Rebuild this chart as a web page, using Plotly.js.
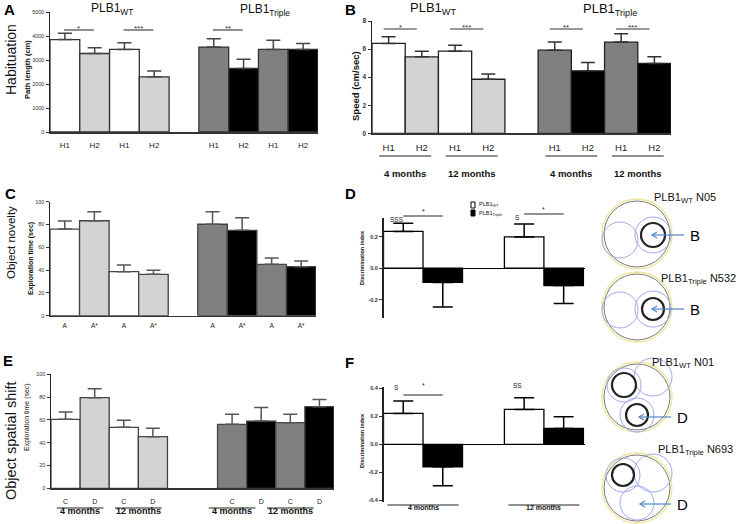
<!DOCTYPE html>
<html><head><meta charset="utf-8">
<script src="https://cdn.plot.ly/plotly-3.0.1.min.js"></script>
<style>html,body{margin:0;padding:0;background:#fff}#chart{width:738px;height:524px}</style>
</head><body><div id="chart"></div>
<script>
// ---------- data ----------
const habituationLabels = ["H1","H2","H1","H2","H1","H2","H1","H2"];
const pathLength    = [3850, 3270, 3440, 2300, 3540, 2650, 3440, 3440];
const pathLengthErr = [260, 240, 280, 240, 350, 380, 380, 250];
const speed    = [6.40, 5.45, 5.85, 3.85, 5.92, 4.45, 6.50, 4.98];
const speedErr = [0.47, 0.40, 0.43, 0.37, 0.59, 0.60, 0.59, 0.47];
const noveltyLabels = ["A","A*","A","A*","A","A*","A","A*"];
const noveltyTime    = [76, 83.3, 38.6, 36.3, 80.2, 74.9, 45.1, 43];
const noveltyTimeErr = [7, 7.9, 5.9, 3.5, 11, 11.1, 5.5, 5];
const shiftLabels = ["C","D","C","D","C","D","C","D"];
const shiftTime    = [60.5, 79.5, 53.5, 45.3, 56.1, 59, 57.6, 71.6];
const shiftTimeErr = [6.5, 7.9, 6.1, 7.3, 8.8, 11.8, 7.3, 6.4];
const ageGroups = ["4 months", "12 months"];
const genotypes = ["PLB1<sub>WT</sub>", "PLB1<sub>Triple</sub>"];
const discNoveltyWT        = [0.233, 0.198];
const discNoveltyWTErr     = [0.052, 0.082];
const discNoveltyTriple    = [-0.09, -0.11];
const discNoveltyTripleErr = [0.156, 0.113];
const discShiftWT        = [0.221, 0.25];
const discShiftWTErr     = [0.089, 0.083];
const discShiftTriple    = [-0.16, 0.114];
const discShiftTripleErr = [0.136, 0.083];
const sigA = [[0,1,"*"],[2,3,"***"],[4,5,"**"]];
const sigB = [[0,1,"*"],[2,3,"***"],[4,5,"**"],[6,7,"***"]];
const sigD = [["SSS","*"],["S","*"]];
const sigF = [["S","*"],["SS",""]];

// ---------- helpers ----------
const W = 738, H = 524;
const FONT = "Arial, 'Liberation Sans', sans-serif";
const pX = x => x / W, pY = y => 1 - y / H;
const dom = (x0, x1, yTop, yBot) => ({x:[x0/W, x1/W], y:[1 - yBot/H, 1 - yTop/H]});
function positions(n, split, gap){ const p=[]; for(let i=0;i<n;i++) p.push(i + (i>=split?gap:0)); return p; }
const fill8 = ['#ffffff','#d3d3d3','#ffffff','#d3d3d3','#808080','#000000','#808080','#000000'];
function errY(vals, errs, color, w){
  return {type:'data', symmetric:false, visible:true,
    array: vals.map((v,i)=> v>=0 ? errs[i] : 0),
    arrayminus: vals.map((v,i)=> v<0 ? errs[i] : 0),
    color: color, thickness: 1.5, width: w};
}
function bar(n, xs, vals, errs, colors, lineColor, errColor, errW){
  const s = n===1 ? '' : String(n);
  return {type:'bar', x:xs, y:vals, width:1, xaxis:'x'+s, yaxis:'y'+s,
    marker:{color:colors, line:{color:lineColor, width:1.3}},
    error_y: errY(vals, errs, errColor, errW), hoverinfo:'skip', showlegend:false};
}

const posA = positions(8, 4, 1);
const posB = positions(8, 4, 1);
const posC = positions(8, 4, 1);
const gE = 1.72;
const posE = positions(8, 4, gE);
const gD = 1.06;
const posDW = [0, 2+gD], posDT = [1, 3+gD];

const traces = [
  bar(1, posA, pathLength, pathLengthErr, fill8, '#333', '#444', 7),
  bar(2, posB, speed, speedErr, fill8, '#222', '#333', 7),
  bar(3, posC, noveltyTime, noveltyTimeErr, fill8, '#444', '#555', 7),
  bar(4, posDW, discNoveltyWT, discNoveltyWTErr, '#ffffff', '#000', '#000', 10),
  bar(4, posDT, discNoveltyTriple, discNoveltyTripleErr, '#000000', '#000', '#000', 10),
  bar(5, posE, shiftTime, shiftTimeErr, fill8, '#444', '#555', 7),
  bar(6, posDW, discShiftWT, discShiftWTErr, '#ffffff', '#000', '#000', 10),
  bar(6, posDT, discShiftTriple, discShiftTripleErr, '#000000', '#000', '#000', 10)
];

function xAx(d, range, tickvals, ticktext, fsize, standoff, show){
  return {domain:d.x, range:range, tickvals:tickvals, ticktext:ticktext, showline:show,
    linecolor:'#333', linewidth:1.5, ticks:'', showgrid:false, zeroline:false,
    tickfont:{size:fsize, color:'#222', family:FONT}, ticklabelstandoff:standoff,
    showticklabels: !!ticktext, fixedrange:true};
}
function yAx(d, range, tickvals, ticktext, fsize, bold, zl){
  return {domain:d.y, range:range, tickvals:tickvals, ticktext:ticktext, showline:true,
    linecolor:'#222', linewidth:1.5, ticks:'outside', ticklen:3, tickwidth:1, tickcolor:'#333',
    showgrid:false, zeroline:!!zl, zerolinecolor:'#000', zerolinewidth:1.3,
    tickfont:{size:fsize, color:'#333', family:FONT, weight: bold?'bold':'normal'}, fixedrange:true};
}
const dA = dom(50, 318, 12, 132);
const dB = dom(372, 671, 21, 133.3);
const dC = dom(50, 316, 201.7, 315.7);
const dD = dom(383.5, 585, 217.7, 318);
const dE = dom(51, 334, 374.3, 488.3);
const dF = dom(383.5, 585, 387, 501.7);

const layout = {
  width:W, height:H, margin:{l:0,r:0,t:0,b:0}, paper_bgcolor:'#fff', plot_bgcolor:'rgba(0,0,0,0)',
  barmode:'overlay', showlegend:false, font:{family:FONT, color:'#111'},
  xaxis:  xAx(dA, [-0.5, 8.5], posA, habituationLabels, 8, 5, true),
  yaxis:  Object.assign(yAx(dA, [0,5000], [0,1000,2000,3000,4000,5000], null, 5.5, false), {anchor:'x'}),
  xaxis2: Object.assign(xAx(dB, [-0.5, 8.5], posB, habituationLabels, 9.5, 5, true), {anchor:'y2'}),
  yaxis2: Object.assign(yAx(dB, [0,8], [0,2,4,6,8], null, 6.5, true), {anchor:'x2'}),
  xaxis3: Object.assign(xAx(dC, [-0.5, 8.5], posC, noveltyLabels, 6.5, 3, true), {anchor:'y3'}),
  yaxis3: Object.assign(yAx(dC, [0,100], [0,20,40,60,80,100], null, 5.5, false), {anchor:'x3'}),
  xaxis4: Object.assign(xAx(dD, [-0.5, 4.6], [], null, 6, 0, false), {anchor:'y4'}),
  yaxis4: Object.assign(yAx(dD, [-0.315,0.32], [-0.2,0,0.2], ['-0.2','0.0','0.2'], 5.5, true, true), {anchor:'x4'}),
  xaxis5: Object.assign(xAx(dE, [-0.5, 7.5+gE], posE, shiftLabels, 7, 6, true), {anchor:'y5'}),
  yaxis5: Object.assign(yAx(dE, [0,100], [0,20,40,60,80,100], null, 5.5, false), {anchor:'x5'}),
  xaxis6: Object.assign(xAx(dF, [-0.5, 4.6], [], null, 6, 0, false), {anchor:'y6'}),
  yaxis6: Object.assign(yAx(dF, [-0.41,0.41], [-0.4,-0.2,0,0.2,0.4], ['-0.4','-0.2','0.0','0.2','0.4'], 5.5, true, true), {anchor:'x6'}),
  shapes: [], annotations: []
};
const A = layout.annotations, S = layout.shapes;
function txt(text, x, y, size, opts){
  A.push(Object.assign({text:text, x:pX(x), y:pY(y), xref:'paper', yref:'paper', showarrow:false,
    xanchor:'center', yanchor:'middle', font:{size:size, family:FONT, color:'#111'}}, opts||{}));
}
// panel letters
[["A",9,10],["B",350,9],["C",10,193],["D",350,193],["E",8,360],["F",349,362]].forEach(l=>
  txt("<b>"+l[0]+"</b>", l[1], l[2], 15, {font:{size:15, family:FONT, color:'#000'}}));
// row labels
txt("Habituation", 11, 60, 14, {textangle:-90});
txt("Object novelty", 11, 243, 11.5, {textangle:-90});
txt("Object spatial shift", 11, 441, 14.5, {textangle:-90});
// group titles
txt(genotypes[0], 112, 9, 12); txt(genotypes[1], 265, 10, 12);
txt(genotypes[0], 433, 8, 13); txt(genotypes[1], 610, 9, 13);
// y titles
txt("<b>Path length (cm)</b>", 27, 70, 7.5, {textangle:-90});
txt("<b>Speed (cm/sec)</b>", 355, 86, 9.5, {textangle:-90});
txt("<b>Exploration time (sec)</b>", 31, 259, 7, {textangle:-90});
txt("Exploration time (sec)", 27, 417, 7, {textangle:-90});
txt("<b>Discrimination index</b>", 362, 258, 5.5, {textangle:-90});
txt("<b>Discrimination index</b>", 362, 441, 5.5, {textangle:-90});

// significance brackets (x in data units, y in paper)
function sig(axs, pairs, pos, yLine, yStar, off, size){
  pairs.forEach(p=>{
    S.push({type:'line', xref:'x'+axs, yref:'paper', x0:pos[p[0]]+off, x1:pos[p[1]]+off, y0:pY(yLine), y1:pY(yLine), line:{color:'#333', width:1.1}});
    A.push({text:p[2], xref:'x'+axs, yref:'paper', x:(pos[p[0]]+pos[p[1]])/2+off, y:pY(yStar), showarrow:false, xanchor:'center', yanchor:'middle', font:{size:size, family:FONT, color:'#333'}});
  });
}
sig('', sigA, posA, 30, 29, -0.03, 8);
sig('2', sigB, posB, 29, 28, -0.15, 8);
// D / F significance
function sigDisc(axs, marks, yS, yLine, yStar){
  marks.forEach((m,k)=>{
    const a = posDW[k], b = posDT[k];
    A.push({text:m[0], xref:'x'+axs, yref:'paper', x:a-0.17, y:pY(yS[k]), showarrow:false, font:{size:6.5, family:FONT, color:'#222'}});
    if(m[1]){
      S.push({type:'line', xref:'x'+axs, yref:'paper', x0:a, x1:b, y0:pY(yLine[k]), y1:pY(yLine[k]), line:{color:'#222', width:1}});
      A.push({text:m[1], xref:'x'+axs, yref:'paper', x:(a+b)/2, y:pY(yStar[k]), showarrow:false, font:{size:7, family:FONT, color:'#222'}});
    }
  });
}
sigDisc('4', sigD, [219, 218], [216, 214], [211, 210]);
sigDisc('6', sigF, [393, 391], [395, 395], [391, 391]);

// month labels
function months(axs, anchors, pos, half, yLine, yText, size){
  anchors.forEach((g,k)=>{
    const c = (pos[g[0]]+pos[g[1]])/2;
    S.push({type:'line', xref:'x'+axs, yref:'paper', x0:c-half, x1:c+half, y0:pY(yLine), y1:pY(yLine), line:{color:'#222', width:1.2}});
    A.push({text:'<b>'+ageGroups[k%2]+'</b>', xref:'x'+axs, yref:'paper', x:c, y:pY(yText), showarrow:false, font:{size:size, family:FONT, color:'#111'}});
  });
}
months('2', [[0,1],[2,3],[4,5],[6,7]], posB, 0.78, 156, 166, 9.5);
months('5', [[0,1],[2,3],[4,4],[6,6]], posE, 0.8, 508, 518, 9);
months('6', [[0,1],[2,3]], [0,1,2+gD,3+gD], 0.9, 505, 513, 7);

// legend in D
S.push({type:'rect', xref:'paper', yref:'paper', x0:pX(471), x1:pX(475), y0:pY(208), y1:pY(202), line:{color:'#000', width:1}, fillcolor:'#fff'});
S.push({type:'rect', xref:'paper', yref:'paper', x0:pX(471), x1:pX(475), y0:pY(216), y1:pY(210), line:{color:'#000', width:1}, fillcolor:'#000'});
txt(genotypes[0], 477, 205, 5.5, {xanchor:'left'});
txt(genotypes[1], 477, 213, 5.5, {xanchor:'left'});

// arena sketches
function circ(cx, cy, r, color, width, fill){
  S.push({type:'circle', xref:'paper', yref:'paper', x0:pX(cx-r), x1:pX(cx+r), y0:pY(cy+r), y1:pY(cy-r),
    line:{color:color, width:width}, fillcolor: fill||'rgba(0,0,0,0)'});
}
function arena(cx, cy, objs, dense){
  circ(cx, cy, 35, '#efe79a', 1.3, '#fff');
  circ(cx, cy, 33, '#555', 0.8);
  objs.forEach(o=> circ(o[0], o[1], o[2], '#9fa8ea', 1));
  dense.forEach(o=> circ(o[0], o[1], o[2], '#222', 2.2));
}
arena(637, 234, [[620,240,18],[653,235,18]], [[653,235,12]]);
arena(637, 307, [[620,310,18],[653,309,18]], [[653,309,11]]);
arena(637, 397, [[624,385,17],[653,377,19],[637,415,17]], [[624,385,12],[637,415,11]]);
arena(637, 488, [[623,475,17],[653,473,19],[637,503,17]], [[623,475,11]]);
txt(genotypes[0]+" N05", 685, 198, 11);
txt(genotypes[1]+" N532", 698, 279, 11);
txt(genotypes[0]+" N01", 683, 363, 11);
txt(genotypes[1]+" N693", 695, 450, 11);
function pointer(letter, xl, y, xHead){
  const c = '#4f86c6';
  S.push({type:'line', xref:'paper', yref:'paper', x0:pX(xl), x1:pX(xHead), y0:pY(y), y1:pY(y), line:{color:c, width:1.2}});
  S.push({type:'path', xref:'paper', yref:'paper',
    path:'M'+pX(xHead+5)+','+pY(y-3)+' L'+pX(xHead)+','+pY(y)+' L'+pX(xHead+5)+','+pY(y+3),
    line:{color:c, width:1.2}});
  txt(letter, xl+11, y, 15, {font:{size:15, family:FONT, color:'#000'}});
}
pointer('B', 684, 235, 652);
pointer('B', 684, 309, 652);
pointer('D', 671, 417, 639);
pointer('D', 671, 504, 640);

Plotly.newPlot('chart', traces, layout, {displayModeBar:false, staticPlot:true});
</script></body></html>
